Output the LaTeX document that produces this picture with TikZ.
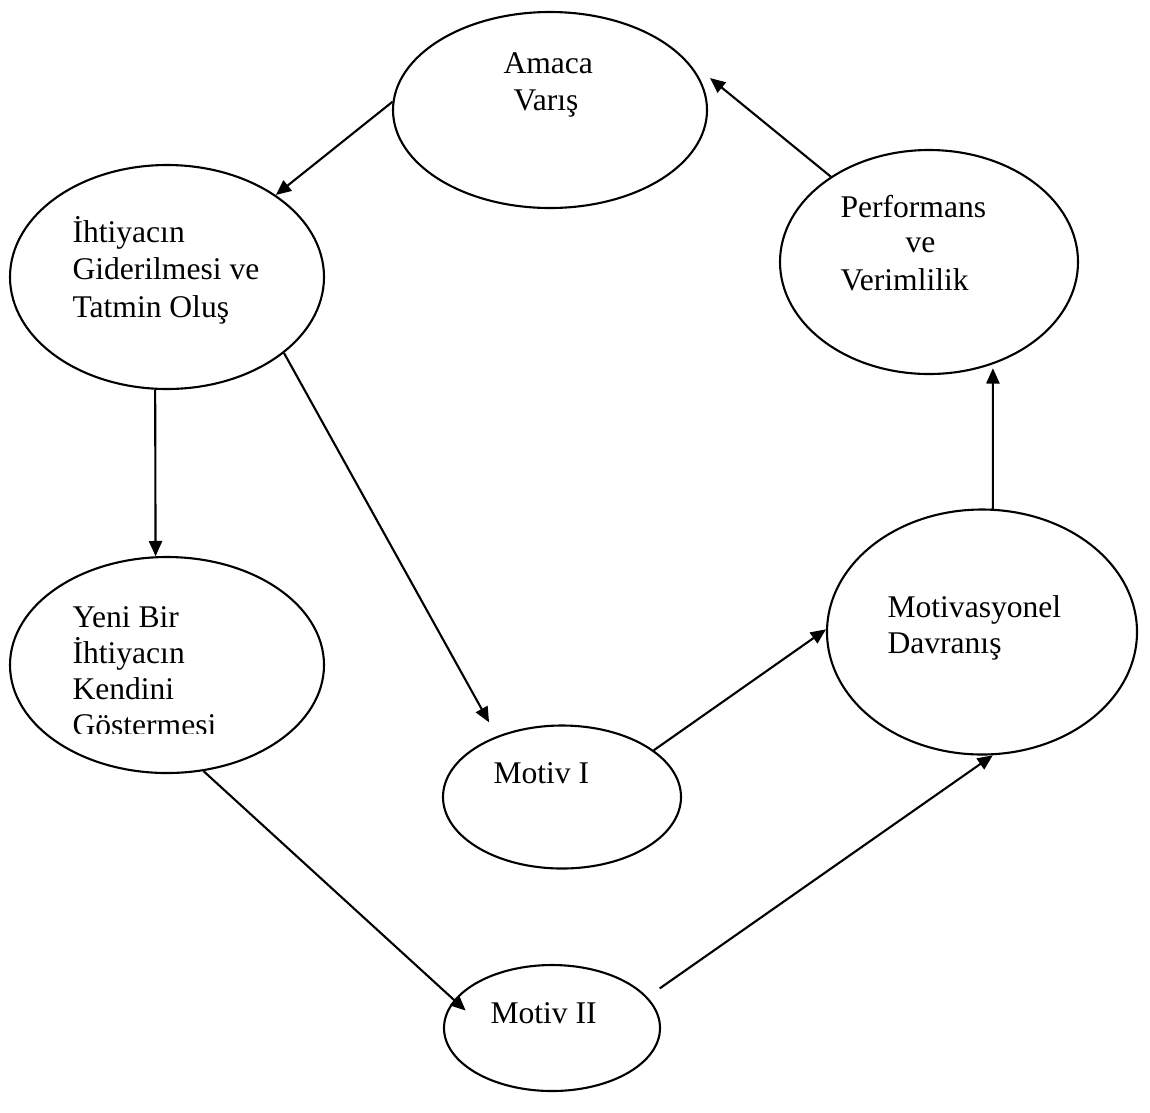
\documentclass[tikz,border=0pt]{standalone}
\usepackage{fontspec}
\setmainfont{Liberation Serif}
\usetikzlibrary{shapes.geometric, arrows.meta}

\def\u{0.38pt}

\begin{document}
\begin{tikzpicture}[x=\u, y=-\u,
          ell/.style 2 args={ellipse,draw,line width=0.8pt,inner sep=0pt,minimum width=#1*\u,minimum height=#2*\u},
          txt/.style={anchor=base west,inner sep=0pt,font=\fontsize{12pt}{14pt}\selectfont},
          arr/.style={line width=0.8pt,-{Triangle[length=5.8pt,width=5pt]}}
        ]
        \useasboundingbox (0,0) rectangle (1150,1112);
        % ellipses
        \node[ell={314}{196}] (A) at (550,110) {};
        \node[ell={314}{224}] (G) at (167,277) {};
        \node[ell={314}{216}] (Y) at (167,665) {};
        \node[ell={298}{224}] (P) at (929,262) {};
        \node[ell={310}{245}] (M) at (982,632) {};
        \node[ell={238}{143}] (m1) at (562,797) {};
        \node[ell={216}{126}] (m2) at (552,1028) {};
        % texts
        \node[txt] (A1) at (503,73) {Amaca};
        \node[txt] (A2) at (513,110) {Varış};
        \foreach\t [count=\i] in {İhtiyacın,Giderilmesi ve,Tatmin Oluş}
          {\node[txt] (G\i) at (72,{242+(\i-1)*37.5}) {\t};}
        \begin{scope}
          \clip (0,0) rectangle (340,733);
          \foreach\t [count=\i] in {Yeni Bir,İhtiyacın,Kendini,Göstermesi}
            {\node[txt] (Y\i) at (72,{627+(\i-1)*36}) {\t};}
        \end{scope}
        \node[txt] (P1) at (840,217) {Performans};
        \node[txt] (P2) at (905,252) {ve};
        \node[txt] (P3) at (840,290) {Verimlilik};
        \node[txt] (M1) at (887,617) {Motivasyonel};
        \node[txt] (M2) at (887,653) {Davranış};
        \node[txt] (m11) at (493,783) {Motiv I};
        \node[txt] (m21) at (490,1023) {Motiv II};
        % arrows
        \coordinate (Atip) at (710,78);
        \draw[arr] (A.177) -- (G.37);
        \draw[arr] (P.139) -- (Atip);
        \draw[arr] (G.264) -- (Y.96);
        \draw[arr,shorten >=6pt] (G.327) -- (m1.137);
        \draw[arr,shorten >=1.5pt] (M.85) -- (P.302);
        \draw[arr] (m1.27) -- (M.179);
        \draw[arr,shorten >=-6pt] (Y.289) -- (m2.164);
        \draw[arr,shorten <=5.7pt] (m2.18) -- (M.275);
      \end{tikzpicture}
\end{document}
